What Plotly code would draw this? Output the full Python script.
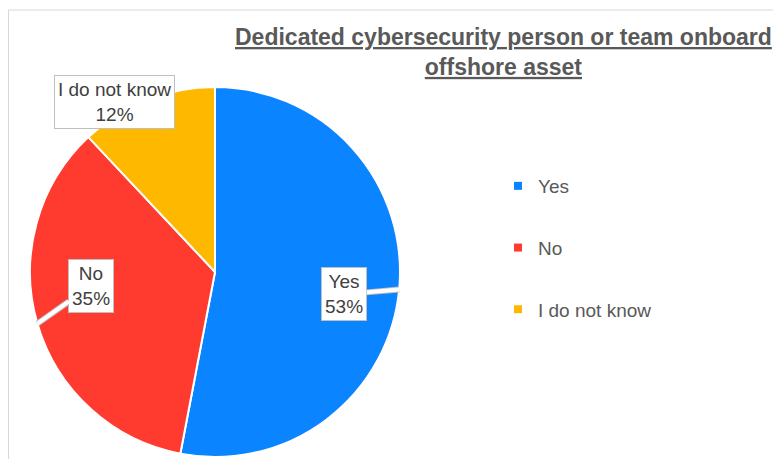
import math
import plotly.graph_objects as go

# Survey answers
labels = ["Yes", "No", "I do not know"]
values = [53, 35, 12]
colors = ["#0A84FF", "#FF3B30", "#FFB800"]

title_text = "Dedicated cybersecurity person or team onboard<br>offshore asset"

W, H = 781, 459
# pie placement in figure pixels (center + radius); the page adds an 8px body margin
cx, cy, R = 207, 264, 185

fig = go.Figure()
fig.add_trace(go.Pie(
    labels=labels, values=values, sort=False, direction="clockwise", rotation=0,
    marker=dict(colors=colors, line=dict(color="white", width=2)),
    textinfo="none", hoverinfo="label+percent", showlegend=False,
    domain=dict(x=[(cx - R) / W, (cx + R) / W], y=[1 - (cy + R) / H, 1 - (cy - R) / H]),
))

# legend made from dummy square markers so the spacing can be opened up
for lab, col in zip(labels, colors):
    fig.add_trace(go.Scatter(x=[None], y=[None], mode="markers", name=lab,
                             legendgroup=lab,
                             marker=dict(symbol="square", size=8, color=col)))

# callout labels, tip placed on the pie edge at each slice's middle angle
offsets = [(-55, 5), (54, -38), (-32, 2)]
total = sum(values)
cum = 0
for lab, v, (ax, ay) in zip(labels, values, offsets):
    mid = (cum + v / 2) / total * 2 * math.pi
    cum += v
    tx = cx + R * math.sin(mid)
    ty = cy - R * math.cos(mid)
    pct = round(v / total * 100)
    txt = f"{lab}<br>{pct}%"
    # grey outline of the callout tail, then the white callout on top
    for acol, aw, fcol in [("#BFBFBF", 6, "rgba(0,0,0,0)"), ("white", 4, "#404040")]:
        fig.add_annotation(
            x=tx / W, y=1 - ty / H, xref="paper", yref="paper",
            text=txt, showarrow=True, ax=ax, ay=ay,
            arrowhead=0, arrowwidth=aw, arrowcolor=acol,
            bgcolor="white", bordercolor="#BFBFBF", borderwidth=1, borderpad=3,
            font=dict(size=19, color=fcol),
        )

fig.add_annotation(
    x=495 / W, y=1 - 14 / H, xref="paper", yref="paper", xanchor="center", yanchor="top",
    text=f"<b><u>{title_text}</u></b>", showarrow=False,
    font=dict(size=23, color="#595959"),
)

# chart area border
fig.add_shape(type="rect", xref="paper", yref="paper",
              x0=0.5 / W, x1=1.02, y0=-0.02, y1=1 - 2 / H,
              line=dict(color="#D9D9D9", width=1))

fig.update_layout(
    width=W, height=H, margin=dict(l=0, r=0, t=0, b=0),
    paper_bgcolor="white", plot_bgcolor="white",
    font=dict(family="Liberation Sans, Arial", color="#595959"),
    xaxis=dict(visible=False), yaxis=dict(visible=False),
    legend=dict(x=490 / W, y=1 - 159 / H, xanchor="left", yanchor="top",
                font=dict(size=19, color="#595959"), tracegroupgap=34,
                itemwidth=30, bgcolor="rgba(0,0,0,0)"),
)

fig.write_html("out.html")
